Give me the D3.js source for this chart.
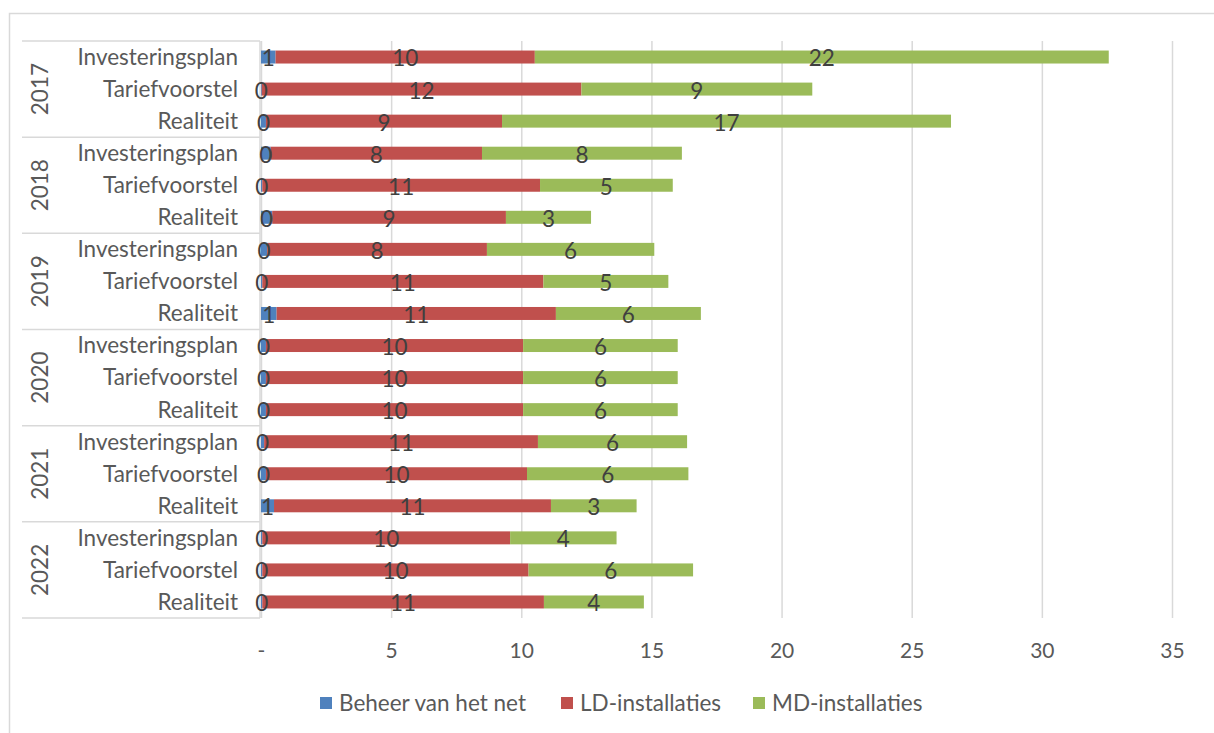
<!DOCTYPE html>
<html>
<head>
<meta charset="utf-8">
<style>
  body { margin: 0; background: #fff; }
  text { font-family: Lato, "Noto Sans", sans-serif; }
  .gridlines line { stroke: #d9d9d9; stroke-width: 1.5; }
  .gridlines .domain { stroke: none; }
</style>
<script src="https://d3js.org/d3.v7.min.js"></script>
</head>
<body>
<svg id="chart" width="1214" height="733"></svg>
<script>
// values (rows: year x type)
const years = ["2017", "2018", "2019", "2020", "2021", "2022"];
const types = ["Investeringsplan", "Tariefvoorstel", "Realiteit"];
const seriesNames = ["Beheer van het net", "LD-installaties", "MD-installaties"];
const seriesColors = ["#4f81bd", "#c0504d", "#9bbb59"];
const beheer = [0.56, 0.03, 0.19, 0.37, 0.05, 0.43, 0.24, 0.05, 0.6, 0.19, 0.19, 0.19, 0.12, 0.19, 0.5, 0.05, 0.05, 0.05];
const ld = [9.96, 12.28, 9.07, 8.12, 10.67, 8.98, 8.44, 10.8, 10.73, 9.88, 9.88, 9.88, 10.52, 10.03, 10.64, 9.52, 10.23, 10.82];
const md = [22.05, 8.87, 17.25, 7.68, 5.1, 3.27, 6.43, 4.8, 5.57, 5.94, 5.94, 5.94, 5.73, 6.2, 3.29, 4.09, 6.32, 3.84];
const xTicks = [0, 5, 10, 15, 20, 25, 30, 35];

const rows = [];
years.forEach((y, i) => {
  types.forEach((t, j) => {
    const k = i * 3 + j;
    rows.push({"id": y + "|" + t, "year": y, "type": t, "vals": [beheer[k], ld[k], md[k]]});
  });
});

const svg = d3.select("svg#chart");
const margins = {"top": 41, "left": 261, "right": 42, "bottom": 115};
const plotW = 1214 - margins.left - margins.right;
const plotH = 733 - margins.top - margins.bottom;

// chart border
svg.append("rect").attr("x", 9.5).attr("y", 13.5).attr("width", 1300).attr("height", 800)
  .attr("fill", "none").attr("stroke", "#d9d9d9").attr("stroke-width", 1.5);

const xScale = d3.scaleLinear().domain([0, 35]).range([0, plotW]);
const yScale = d3.scaleBand().domain(rows.map(d => d.id)).range([0, plotH])
  .paddingInner(0.595).paddingOuter(0.2975);

const annotations = svg.append("g").attr("id", "annotations");

let gridlines = d3.axisBottom(xScale).tickValues(xTicks).tickSize(-plotH).tickFormat("");
annotations.append("g")
  .attr("class", "x gridlines")
  .attr("transform", "translate(" + margins.left + "," + (margins.top + plotH) + ")")
  .call(gridlines);

let bottomAxis = d3.axisBottom(xScale).tickValues(xTicks).tickSize(0)
  .tickFormat(d => d === 0 ? "-" : d);
let xAxisG = annotations.append("g")
  .attr("transform", "translate(" + margins.left + "," + (margins.top + plotH + 22) + ")")
  .call(bottomAxis);
xAxisG.select(".domain").remove();
xAxisG.selectAll("text").attr("fill", "#595959").style("font-size", "21px");

// category axis: vertical axis line and group separators
annotations.append("line")
  .attr("x1", margins.left - 1).attr("x2", margins.left - 1)
  .attr("y1", margins.top).attr("y2", margins.top + plotH)
  .attr("stroke", "#d9d9d9").attr("stroke-width", 1.5);

const groupH = plotH / years.length;
for (let g = 0; g <= years.length; g++) {
  annotations.append("line")
    .attr("x1", 22).attr("x2", margins.left - 1)
    .attr("y1", margins.top + g * groupH).attr("y2", margins.top + g * groupH)
    .attr("stroke", "#d9d9d9").attr("stroke-width", 1.5);
}

rows.forEach(d => {
  annotations.append("text")
    .attr("x", 238)
    .attr("y", margins.top + yScale(d.id) + yScale.bandwidth() / 2)
    .attr("dy", "0.35em")
    .attr("text-anchor", "end")
    .attr("fill", "#595959")
    .style("font-size", "22.5px")
    .text(d.type);
});

years.forEach((y, i) => {
  const cy = margins.top + (i + 0.5) * groupH;
  annotations.append("text")
    .attr("transform", "translate(40," + cy + ") rotate(-90)")
    .attr("dy", "0.35em")
    .attr("text-anchor", "middle")
    .attr("fill", "#595959")
    .style("font-size", "22.5px")
    .text(y);
});

// bars
const bars = svg.append("g").attr("transform", "translate(" + margins.left + "," + margins.top + ")");
rows.forEach(d => {
  let start = 0;
  d.vals.forEach((v, s) => {
    bars.append("rect")
      .attr("x", xScale(start))
      .attr("y", yScale(d.id))
      .attr("width", xScale(start + v) - xScale(start))
      .attr("height", yScale.bandwidth())
      .attr("fill", seriesColors[s]);
    start += v;
  });
});

// data labels
rows.forEach(d => {
  let start = 0;
  d.vals.forEach((v, s) => {
    bars.append("text")
      .attr("x", xScale(start + v / 2))
      .attr("y", yScale(d.id) + yScale.bandwidth() / 2)
      .attr("dy", "0.42em")
      .attr("text-anchor", "middle")
      .attr("fill", "#404040")
      .style("font-size", "22.5px")
      .text(Math.round(v));
    start += v;
  });
});

// legend
const legendX = [320, 561, 753];
const legend = svg.append("g");
seriesNames.forEach((n, i) => {
  legend.append("rect").attr("x", legendX[i]).attr("y", 697).attr("width", 12).attr("height", 12)
    .attr("fill", seriesColors[i]);
  legend.append("text").attr("x", legendX[i] + 19).attr("y", 703).attr("dy", "0.35em")
    .attr("fill", "#595959").style("font-size", "22.5px").text(n);
});
</script>
</body>
</html>
